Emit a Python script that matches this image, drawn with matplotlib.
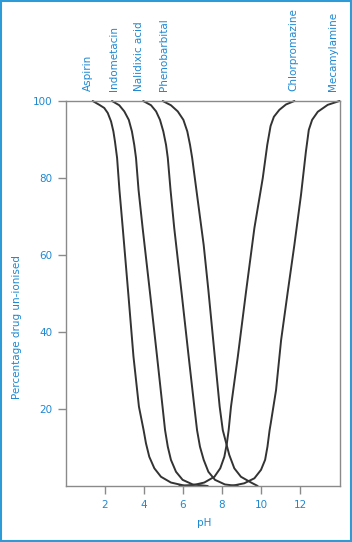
import matplotlib
matplotlib.use("Agg")
import matplotlib.pyplot as plt
from matplotlib.patches import Rectangle

# % un-ionised vs pH
aspirin_ph = [1.37, 1.71, 1.96, 2.14, 2.31, 2.43, 2.51, 2.62, 2.74, 2.91, 3.20, 3.46, 3.74,
              3.98, 4.10, 4.27, 4.53, 4.87, 5.38, 6.07, 6.50]
aspirin_pc = [100, 99.0, 98.2, 96.9, 94.7, 92.1, 89.5, 85.2, 76.9, 67.0, 49.6, 33.6, 20.6,
              14.5, 11.1, 7.6, 4.6, 2.4, 0.9, 0.1, 0]

indo_ph = [2.36, 2.73, 2.99, 3.22, 3.38, 3.50, 3.59, 3.72, 3.93, 4.32, 4.67, 4.95,
           5.08, 5.22, 5.38, 5.64, 5.98, 6.50, 7.27]
indo_pc = [100, 98.9, 97.3, 95.1, 92.1, 88.6, 85.2, 76.9, 67.0, 49.6, 33.6, 20.6,
           14.5, 10.2, 6.8, 3.7, 1.6, 0.4, 0]

nalid_ph = [3.96, 4.36, 4.62, 4.82, 4.99, 5.13, 5.22, 5.36, 5.55, 5.94, 6.29, 6.58,
            6.72, 6.87, 7.06, 7.30, 7.64, 8.15, 8.81]
nalid_pc = [100, 98.9, 97.3, 95.1, 92.1, 88.6, 85.2, 76.9, 67.0, 49.6, 33.6, 20.6,
            14.5, 10.2, 6.8, 3.7, 1.6, 0.4, 0]

pheno_ph = [4.96, 5.38, 5.73, 6.02, 6.22, 6.36, 6.47, 6.72, 7.06, 7.30, 7.63, 7.88,
            8.04, 8.21, 8.37, 8.63, 8.97, 9.49, 9.83]
pheno_pc = [100, 98.9, 97.3, 95.1, 92.1, 88.6, 85.2, 75.6, 62.6, 50.9, 33.6, 20.6,
            14.5, 11.2, 8.1, 4.6, 2.4, 0.9, 0]

chlor_ph = [5.81, 6.58, 7.09, 7.61, 7.91, 8.12, 8.25, 8.34, 8.46, 8.81, 9.23, 9.66,
            10.09, 10.32, 10.49, 10.66, 10.94, 11.28, 11.71]
chlor_pc = [0, 0.3, 0.9, 2.4, 4.6, 7.6, 11.1, 14.5, 20.6, 33.6, 50.4, 67.0,
            80.0, 88.6, 93.5, 95.9, 97.7, 99.1, 100]

mecam_ph = [8.46, 9.14, 9.66, 10.00, 10.21, 10.33, 10.44, 10.50, 10.77, 11.03, 11.37,
            11.71, 12.05, 12.30, 12.45, 12.62, 12.91, 13.42, 14.02]
mecam_pc = [0, 0.7, 2.0, 4.2, 6.8, 10.2, 14.5, 16.3, 24.9, 37.9, 50.4,
            62.6, 75.6, 86.8, 92.5, 95.1, 97.2, 99.0, 100]

drug_names = ["Aspirin", "Indometacin", "Nalidixic acid", "Phenobarbital", "Chlorpromazine", "Mecamylamine"]
label_ph = [1.13, 2.46, 3.74, 5.03, 11.64, 13.69]

x_ticks = [2, 4, 6, 8, 10, 12]
y_ticks = [20, 40, 60, 80, 100]

blue = "#1e88d0"
grey = "#8a8a8a"

fig = plt.figure(figsize=(3.52, 5.42), dpi=100)
ax = fig.add_axes([66/352, 1 - 486/542, 274/352, 385/542])

curves = [(aspirin_ph, aspirin_pc), (indo_ph, indo_pc), (nalid_ph, nalid_pc),
          (pheno_ph, pheno_pc), (chlor_ph, chlor_pc), (mecam_ph, mecam_pc)]
for xs, ys in curves:
    ax.plot(xs, ys, color="#333333", lw=1.4, solid_capstyle="round",
            solid_joinstyle="round", clip_on=False)

ax.set_xlim(0, 14.05)
ax.set_ylim(0, 100)
ax.set_xticks(x_ticks)
ax.set_yticks(y_ticks)
ax.tick_params(direction="out", length=6, width=1, color=grey, labelcolor=blue,
               labelsize=7.5, pad=4)
for s in ax.spines.values():
    s.set_color(grey)
    s.set_linewidth(1)

# drug names above the plot
for name, ph in zip(drug_names, label_ph):
    ax.text(ph, 102.5, name, rotation=90, ha="center", va="bottom",
            color=blue, fontsize=7.5)

fig.text(17/352, 1 - 327/542, "Percentage drug un-ionised", rotation=90,
         ha="center", va="center", color=blue, fontsize=7.5)
fig.text(204/352, 1 - 523/542, "pH", ha="center", va="center", color=blue, fontsize=7.5)

# blue frame around the figure
fig.patches.append(Rectangle((0.002, 0.002), 0.996, 0.996, transform=fig.transFigure,
                             fill=False, edgecolor="#2f9bd6", lw=1.5))

fig.savefig("out.png", dpi=100)
